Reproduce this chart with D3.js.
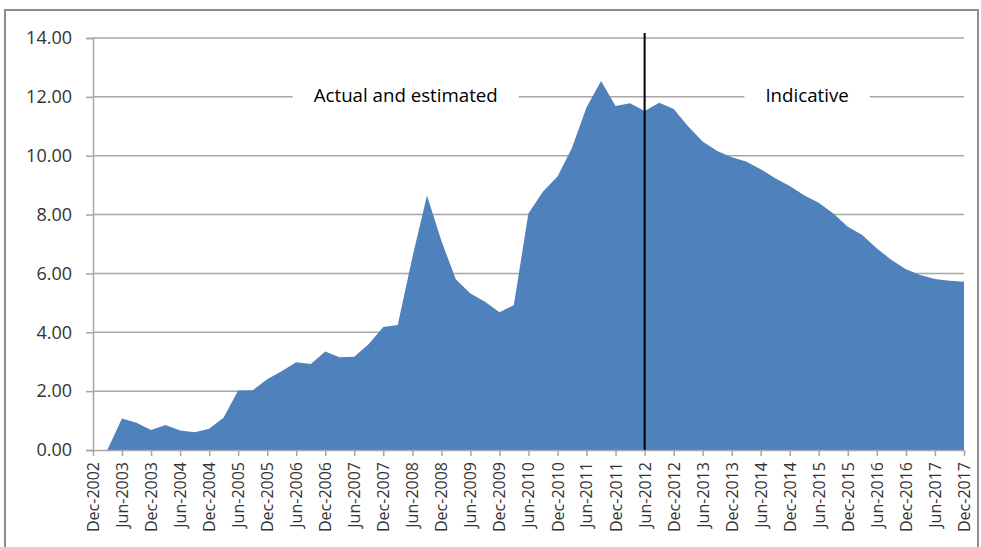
<!DOCTYPE html>
<html><head><meta charset="utf-8">
<script src="https://cdn.jsdelivr.net/npm/d3@7"></script>
<style>body{margin:0;background:#fff}svg{display:block}</style>
</head><body>
<svg id="c" width="981" height="547"></svg>
<script>
const quarters = [];
(function(){ // quarterly dates Dec-2002 .. Dec-2017
  for (let y = 2002, m = 11; y < 2018; ) { quarters.push(new Date(y, m, 1)); m += 3; if (m > 11) { m -= 12; y++; } if (y === 2017 && m > 11) break; if (y > 2017) break; }
})();
const values = [
  0, 0, 1.07, 0.93, 0.68, 0.85, 0.66, 0.60, 0.72, 1.10, 2.02, 2.03, 2.40, 2.68, 2.98, 2.92,
  3.35, 3.15, 3.17, 3.60, 4.18, 4.25, 6.55, 8.65, 7.10, 5.80, 5.32, 5.04, 4.68, 4.92,
  8.04, 8.78, 9.29, 10.25, 11.64, 12.54, 11.69, 11.78, 11.52, 11.80, 11.59, 11.00,
  10.48, 10.16, 9.95, 9.80, 9.54, 9.23, 8.97, 8.66, 8.40, 8.04, 7.59, 7.31, 6.85,
  6.46, 6.14, 5.95, 5.81, 5.75, 5.72
];
const yTicks = [0, 2, 4, 6, 8, 10, 12, 14];
const tickDates = [];
for (let y = 2002; y <= 2017; y++) { if (y > 2002) tickDates.push(new Date(y, 5, 1)); tickDates.push(new Date(y, 11, 1)); }
const dividerDate = new Date(2012, 5, 1);
const annotations = [
  {text: "Actual and estimated", date: new Date(2008, 2, 1), value: 12, dx: 8},
  {text: "Indicative", date: new Date(2015, 2, 1), value: 12, dx: 3}
];

const data = quarters.slice(0, values.length).map((d, i) => ({date: d, v: values[i]}));
const svg = d3.select("#c");
const L = 93, R = 964, T = 38, B = 450;
const x = d3.scaleTime().domain([new Date(2002, 11, 1), new Date(2017, 11, 1)]).range([L, R]);
const y = d3.scaleLinear().domain([0, 14]).range([B, T]);
const fmtM = d3.timeFormat("%b-%Y");
const FONT = "Open Sans, sans-serif";

// outer frame
svg.append("rect").attr("x", 5).attr("y", 10).attr("width", 973).attr("height", 560)
  .attr("fill", "none").attr("stroke", "#8c8c8c").attr("stroke-width", 2);

// gridlines
svg.append("g").selectAll("line").data(yTicks.filter(t => t > 0)).join("line")
  .attr("x1", L).attr("x2", R).attr("y1", d => y(d)).attr("y2", d => y(d))
  .attr("stroke", "#a6a6a6").attr("stroke-width", 1.5);

// area
svg.append("path").datum(data)
  .attr("d", d3.area().x(d => x(d.date)).y0(y(0)).y1(d => y(d.v)))
  .attr("fill", "#4f81bd");

// y axis
const ya = svg.append("g").attr("transform", `translate(${L},0)`)
  .call(d3.axisLeft(y).tickValues(yTicks).tickFormat(d3.format(".2f")).tickSize(7).tickPadding(14));
ya.select(".domain").attr("stroke", "#a6a6a6").attr("stroke-width", 1.5);
ya.selectAll(".tick line").attr("stroke", "#a6a6a6").attr("stroke-width", 1.5);
ya.selectAll("text").attr("font-family", FONT).attr("font-size", 18).attr("fill", "#333");

// x axis
const xa = svg.append("g").attr("transform", `translate(0,${B})`)
  .call(d3.axisBottom(x).tickValues(tickDates).tickFormat(fmtM).tickSize(6).tickSizeOuter(0));
xa.select(".domain").attr("stroke", "#a6a6a6").attr("stroke-width", 1.5);
xa.selectAll(".tick line").attr("stroke", "#a6a6a6").attr("stroke-width", 1.5);
xa.selectAll("text").attr("font-family", FONT).attr("font-size", 16).attr("fill", "#333")
  .attr("transform", "rotate(-90)").attr("text-anchor", "end").attr("dx", -12).attr("dy", 5.5).attr("y", 0).attr("x", 0);

// divider
svg.append("line").attr("x1", x(dividerDate)).attr("x2", x(dividerDate)).attr("y1", 33).attr("y2", B)
  .attr("stroke", "#000").attr("stroke-width", 2);

// annotations
annotations.forEach(a => {
  const t = svg.append("text").attr("x", x(a.date) + a.dx).attr("y", y(a.value) - 1).attr("dy", "0.35em")
    .attr("text-anchor", "middle").attr("font-family", FONT).attr("font-size", 18.7).attr("fill", "#000").text(a.text);
  const bb = t.node().getBBox();
  svg.insert("rect", () => t.node()).attr("x", bb.x - 21).attr("y", bb.y).attr("width", bb.width + 42).attr("height", bb.height).attr("fill", "#fff");
});
</script>
</body></html>
